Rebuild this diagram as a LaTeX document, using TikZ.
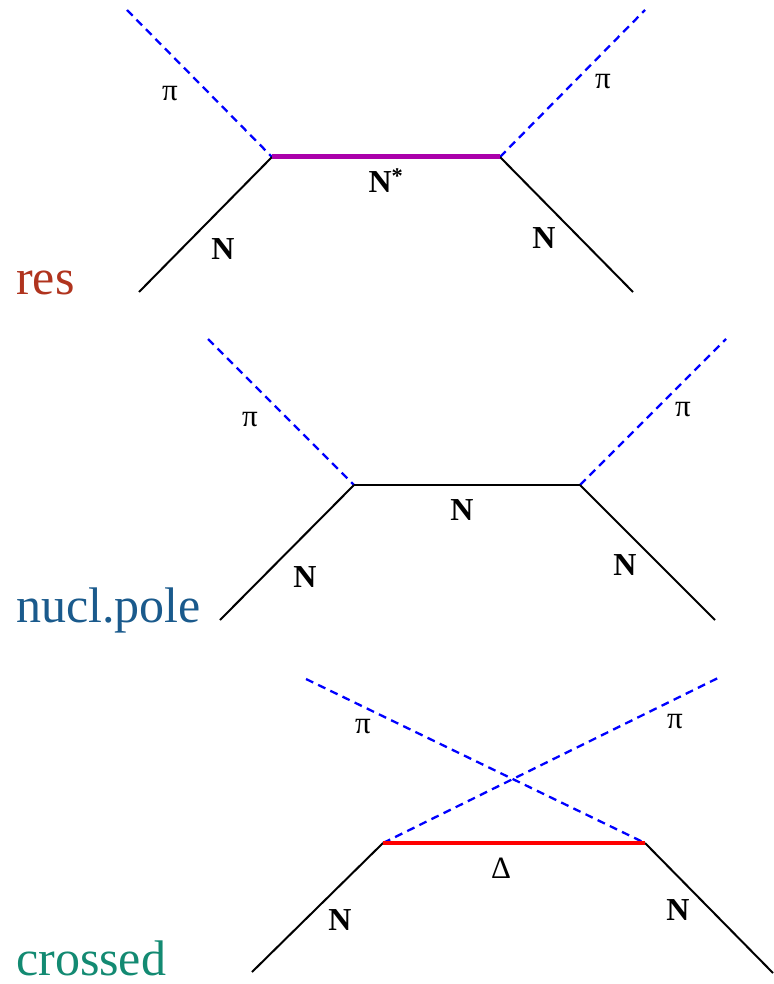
\documentclass[tikz,border=0pt]{standalone}
\usepackage{fontspec}
\setmainfont{Liberation Serif}
\definecolor{resc}{HTML}{B0341E}
\definecolor{nuclc}{HTML}{1A5A8C}
\definecolor{crossc}{HTML}{138A72}
\definecolor{nstar}{HTML}{AA00AA}
\begin{document}
\begin{tikzpicture}[x=1pt,y=-1pt,
  pion/.style={blue, line width=2.3pt, dash pattern=on 8pt off 5.5pt},
  nucl/.style={black, line width=2pt},
  midline/.style={black, line width=2.6pt},
  nstarline/.style={nstar, line width=5pt},
  deltaline/.style={red, line width=4.5pt},
  lab/.style={font=\fontsize{31}{31}\selectfont, inner sep=0pt},
  blab/.style={font=\fontsize{32}{32}\selectfont\bfseries, inner sep=0pt},
  title/.style={font=\fontsize{50}{50}\selectfont, inner sep=0pt, anchor=base west}]
\useasboundingbox (0,0) rectangle (773,984);
% ---------- res ----------
\coordinate (a1) at (127,10);
\coordinate (a2) at (645,10);
\coordinate (av1) at (272,157);
\coordinate (av2) at (500,157);
\coordinate (ab1) at (139,292);
\coordinate (ab2) at (633,292);
\draw[pion] (a1) -- (av1);
\draw[pion] (av2) -- (a2);
\draw[nucl] (ab1) -- (av1);
\draw[nucl] (av2) -- (ab2);
\draw[nstarline] (av1) -- (av2);
\node[lab] (api1) at (170,94) {π};
\node[lab] (api2) at (603,82) {π};
\node[blab] (ans) at (386,181) {N\textsuperscript{*}};
\node[blab] (an1) at (223,249) {N};
\node[blab] (an2) at (544,238) {N};
\node[title, text=resc] (tres) at (16,294) {res};
% ---------- nucl.pole ----------
\coordinate (b1) at (208,339);
\coordinate (b2) at (726,339);
\coordinate (bv1) at (354,485);
\coordinate (bv2) at (580,485);
\coordinate (bb1) at (220,620);
\coordinate (bb2) at (715,620);
\draw[pion] (b1) -- (bv1);
\draw[pion] (bv2) -- (b2);
\draw[nucl] (bb1) -- (bv1);
\draw[nucl] (bv2) -- (bb2);
\draw[midline] (bv1) -- (bv2);
\node[lab] (bpi1) at (250,420) {π};
\node[lab] (bpi2) at (683,410) {π};
\node[blab] (bnm) at (462,510) {N};
\node[blab] (bn1) at (305,577) {N};
\node[blab] (bn2) at (625,565) {N};
\node[title, text=nuclc] (tnucl) at (16,622) {nucl.pole};
% ---------- crossed ----------
\coordinate (c1) at (306,679);
\coordinate (c2) at (720,677);
\coordinate (cv1) at (383,843);
\coordinate (cv2) at (645,843);
\coordinate (cb1) at (252,972);
\coordinate (cb2) at (773,973);
\draw[pion] (c1) -- (cv2);
\draw[pion] (cv1) -- (c2);
\draw[nucl] (cb1) -- (cv1);
\draw[nucl] (cv2) -- (cb2);
\draw[deltaline] (cv1) -- (cv2);
\node[lab] (cpi1) at (363,727) {π};
\node[lab] (cpi2) at (675,722) {π};
\node[lab] (cdel) at (501,868) {Δ};
\node[blab] (cn1) at (340,920) {N};
\node[blab] (cn2) at (678,910) {N};
\node[title, text=crossc] (tcross) at (16,975) {crossed};
\end{tikzpicture}
\end{document}
